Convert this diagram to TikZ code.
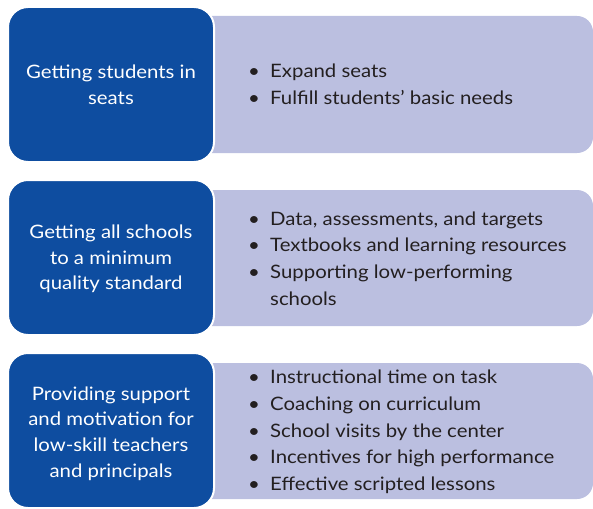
\documentclass[tikz,border=0pt]{standalone}
\usepackage{fontspec}
\setmainfont{Lato}[FakeStretch=1.1]
\definecolor{headblue}{HTML}{0E4DA0}
\definecolor{lavender}{HTML}{BBBFE0}
\definecolor{inktext}{HTML}{231F20}
\begin{document}
\begin{tikzpicture}[x=1pt,y=-1pt,
  headbox/.style={draw=white, line width=2pt, fill=headblue, rounded corners=20pt,
    minimum width=206pt, minimum height=155pt, inner sep=0pt},
  headtext/.style={text=white, align=center, inner sep=0pt,
    font=\fontsize{18.5}{25.7}\selectfont},
  itemlist/.style={anchor=west, align=left, text=inktext, inner sep=0pt,
    font=\fontsize{18.5}{26.75}\selectfont},
  panel/.style={fill=lavender}]
\useasboundingbox (0,0) rectangle (593,508);
\newcommand{\itm}[1]{\makebox[22pt][l]{\textbullet}#1}
\newcommand{\cont}[1]{\hspace*{22pt}#1}

% lavender panels, square at the left, rounded at the right
\fill[panel] (200,16) [rounded corners=16pt] -- (593,16) -- (593,153) [sharp corners] -- (200,153) -- cycle;
\fill[panel] (200,190) [rounded corners=16pt] -- (593,190) -- (593,326) [sharp corners] -- (200,326) -- cycle;
\fill[panel] (200,363) [rounded corners=16pt] -- (593,363) -- (593,499) [sharp corners] -- (200,499) -- cycle;

% blue headings
\node[headbox] (h1) at (111,84.5) {};
\node[headbox] (h2) at (111,257.5) {};
\node[headbox] (h3) at (111,430.5) {};
\node[headtext] (t1) at ([yshift=0pt]h1.center) {Getting students in\\seats};
\node[headtext] (t2) at ([yshift=-1.5pt]h2.center) {Getting all schools\\to a minimum\\quality standard};
\node[headtext] (t3) at ([yshift=-3pt]h3.center) {Providing support\\and motivation for\\low-skill teachers\\and principals};

% item lists
\node[itemlist] (l1) at (248,84.5) {\itm{Expand seats}\\\itm{Fulfill students’ basic needs}};
\node[itemlist] (l2) at (248,258.5) {\itm{Data, assessments, and targets}\\\itm{Textbooks and learning resources}\\\itm{Supporting low-performing}\\\cont{schools}};
\node[itemlist] (l3) at (248,432) {\itm{Instructional time on task}\\\itm{Coaching on curriculum}\\\itm{School visits by the center}\\\itm{Incentives for high performance}\\\itm{Effective scripted lessons}};
\end{tikzpicture}
\end{document}
